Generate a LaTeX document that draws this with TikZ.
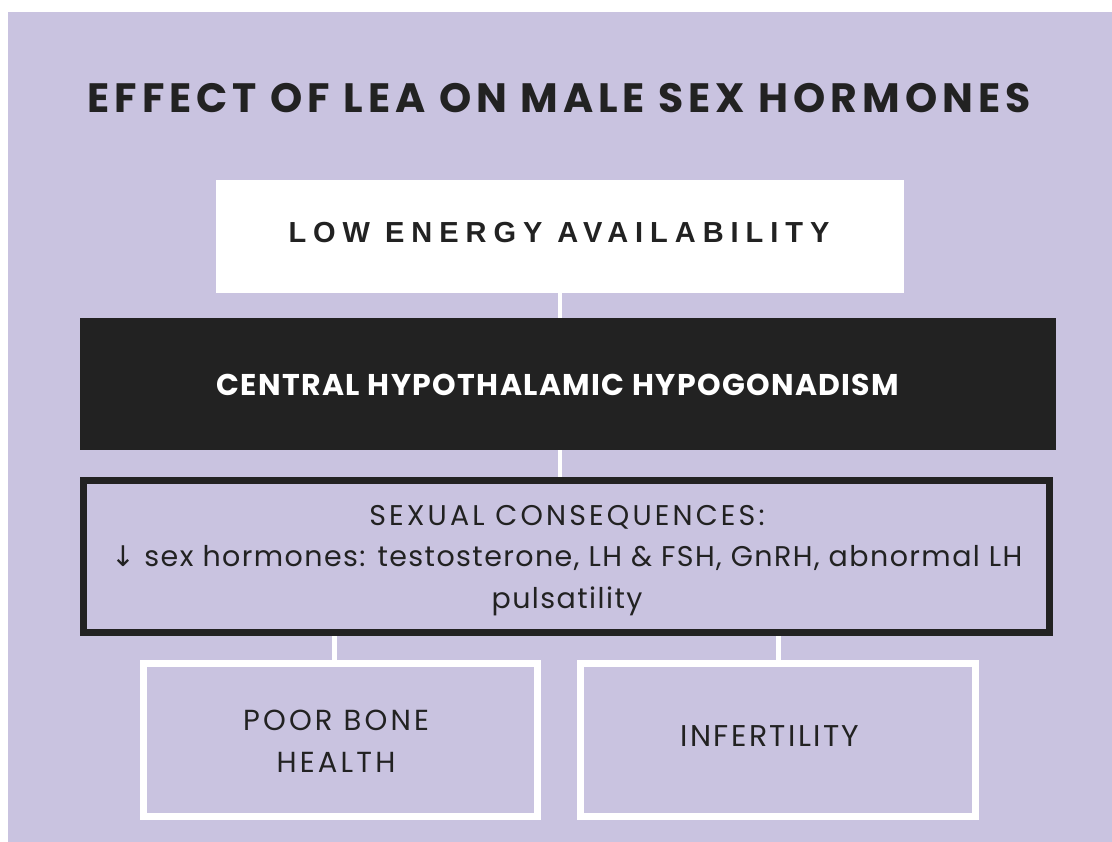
\documentclass[tikz,border=0pt]{standalone}
\usepackage{fontspec}
\setmainfont{Poppins}
\newfontfamily\popt{Poppins}[LetterSpace=12]
\newfontfamily\popc{Poppins}[LetterSpace=4.5]
\newfontfamily\popw{Poppins}[LetterSpace=8]
\newfontfamily\popcap{Poppins}[LetterSpace=11]
\newfontfamily\popl{Poppins}[LetterSpace=5]
\newfontfamily\arialb{Liberation Sans}[LetterSpace=24]
\newfontfamily\djv{DejaVu Sans}
\definecolor{bg}{HTML}{C9C3E0}
\definecolor{ink}{HTML}{222222}
\tikzset{
  whitebox/.style={draw=none, fill=white, inner sep=0pt},
  darkbox/.style={draw=none, fill=ink, inner sep=0pt},
  framebox/.style={draw=ink, line width=7pt, inner sep=0pt},
  wframe/.style={draw=white, line width=7pt, inner sep=0pt},
  label/.style={inner sep=0pt, anchor=base, align=center, text=ink},
  conn/.style={draw=white, line width=4pt},
  conn2/.style={draw=white, line width=5pt},
}
\begin{document}
\begin{tikzpicture}[x=1pt,y=-1pt]
\useasboundingbox (0,0) rectangle (1112,842);
\fill[white] (0,0) rectangle (1112,842);
\fill[bg] (8,12) rectangle (1112,842);

\node[label, font=\fontsize{41}{48}\selectfont\popt\bfseries] (title) at (559,113)
  {EFFECT OF LEA ON MALE SEX HORMONES};

\node[whitebox, minimum width=688pt, minimum height=113pt] (lea) at (560,236.5) {};
\node[label, font=\fontsize{29}{34}\selectfont\arialb\bfseries] (leat) at (559,243)
  {LOW ENERGY AVAILABILITY};

\node[darkbox, minimum width=976pt, minimum height=132pt] (chh) at (568,384) {};
\node[label, text=white, font=\fontsize{30}{36}\selectfont\popc\bfseries] (chht) at (558,396)
  {CENTRAL HYPOTHALAMIC HYPOGONADISM};

\node[framebox, minimum width=966pt, minimum height=152pt] (sex) at (566.5,556.5) {};
\node[label, font=\fontsize{28.5}{41.5}\selectfont\popl] (sext) at (567,608)
  {{\popcap SEXUAL CONSEQUENCES:}\\
   {\djv ↓} sex hormones: testosterone, LH \& FSH, GnRH, abnormal LH\\
   pulsatility};

\node[wframe, minimum width=394pt, minimum height=153pt] (bone) at (340.5,740) {};
\node[label, font=\fontsize{29}{42}\selectfont\popcap] (bonet) at (336,772)
  {POOR BONE\\HEALTH};

\node[wframe, minimum width=395pt, minimum height=153pt] (inf) at (778,740) {};
\node[label, font=\fontsize{30}{34}\selectfont\popw] (inft) at (770,746)
  {INFERTILITY};

\draw[conn] (lea.south) -- (lea.south |- chh.north);
\draw[conn] (chh.south -| lea.south) -- (sex.north -| lea.south);
\draw[conn2] ([xshift=-6pt]bone.north) -- ([xshift=-6pt]bone.north |- sex.south);
\draw[conn2] (inf.north) -- (inf.north |- sex.south);
\end{tikzpicture}
\end{document}
